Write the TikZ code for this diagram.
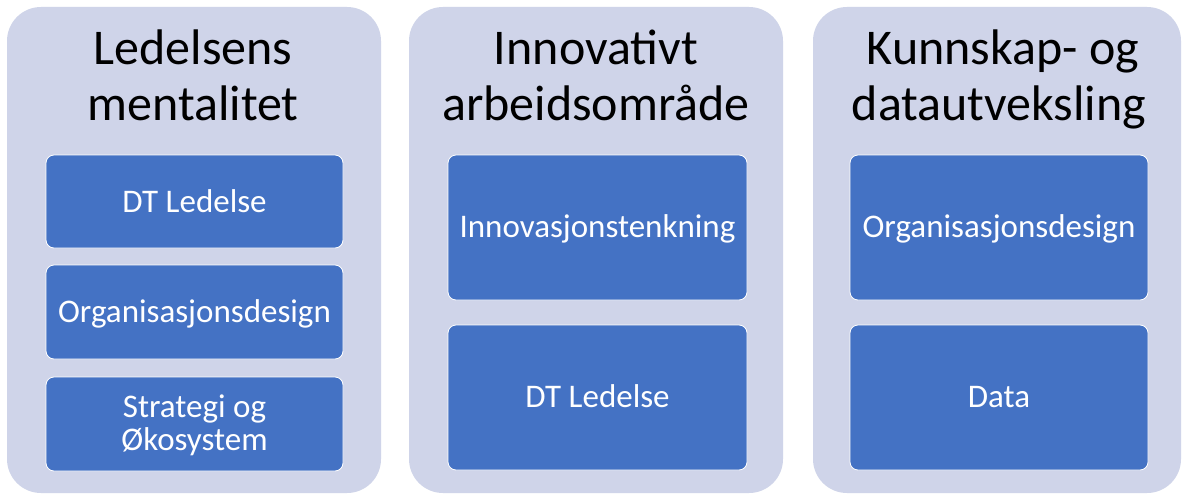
\documentclass[tikz,border=0pt]{standalone}
\usepackage{fontspec}
\setmainfont{Carlito}
\begin{document}
\begin{tikzpicture}[x=1pt,y=-1pt,
  panel/.style={fill=panelfill,draw=none,rounded corners=34pt},
  item/.style={fill=itemfill,draw=white,line width=0.8pt,rounded corners=8pt},
  title/.style={font=\fontsize{50}{55}\selectfont,text=black,inner sep=0pt,anchor=base},
  label/.style={font=\fontsize{33}{33}\selectfont,align=center,text=white,inner sep=0pt,anchor=base}]
\definecolor{panelfill}{HTML}{CFD4E9}
\definecolor{itemfill}{HTML}{4472C4}
\useasboundingbox[fill=white] (0,0) rectangle (1183,495);
% column panels
\path[panel] (7,7) rectangle (381,493);
\path[panel] (409,7) rectangle (783,493);
\path[panel] (813,7) rectangle (1181,493);
% column titles, one node per line
\node[title] (t1a) at (193,65) {Ledelsens};
\node[title] (t1b) at (193,120) {mentalitet};
\node[title] (t2a) at (596,65) {Innovativt};
\node[title] (t2b) at (596,120) {arbeidsområde};
\node[title] (t3a) at (1003,65) {Kunnskap- og};
\node[title] (t3b) at (999,120) {datautveksling};
% first column
\path[item] (46,155) rectangle (343,248);
\node[label] (a1) at (194.5,212) {DT Ledelse};
\path[item] (46,265) rectangle (343,359);
\node[label] (a2) at (194.5,322) {Organisasjonsdesign};
\path[item] (46,377) rectangle (343,471);
\node[label] (a3a) at (194.5,417) {Strategi og};
\node[label] (a3b) at (194.5,450) {Økosystem};
% second column
\path[item] (448,155) rectangle (747,300);
\node[label] (b1) at (597.5,237) {Innovasjonstenkning};
\path[item] (448,325) rectangle (747,470);
\node[label] (b2) at (597.5,407) {DT Ledelse};
% third column
\path[item] (850,155) rectangle (1148,300);
\node[label] (c1) at (999,237) {Organisasjonsdesign};
\path[item] (850,325) rectangle (1148,470);
\node[label] (c2) at (999,407) {Data};
\end{tikzpicture}
\end{document}
